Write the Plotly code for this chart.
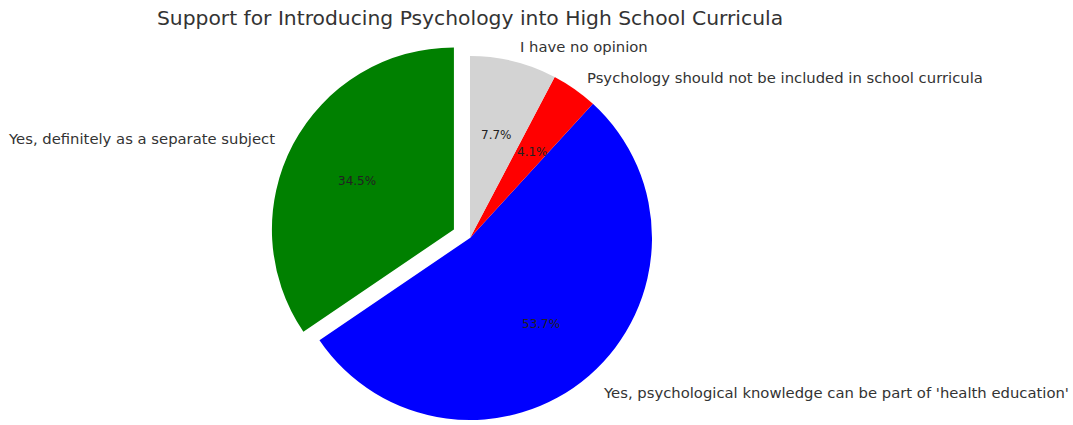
import math
import plotly.graph_objects as go

# ---- data ----
labels = [
    "Yes, definitely as a separate subject",
    "Yes, psychological knowledge can be part of 'health education'",
    "Psychology should not be included in school curricula",
    "I have no opinion",
]
values = [34.5, 53.7, 4.1, 7.7]
colors = ["#008000", "#0000ff", "#ff0000", "#d3d3d3"]
explode = [0.1, 0.0, 0.0, 0.0]
title = "Support for Introducing Psychology into High School Curricula"

# ---- geometry (pixels) ----
W, H = 1073, 425
CX, CY, R = 470, 238, 182
START = 90.0
FONT = "DejaVu Sans"
TXT = "#333333"

total = float(sum(values))
# plotly's counterclockwise pies place the first slice clockwise of the
# rotation angle; rotate so the first slice starts at 12 o'clock going ccw
rotation = -360.0 * values[0] / total

fig = go.Figure()
annotations = []
cum = 0.0
for i, (lab, v, col, ex) in enumerate(zip(labels, values, colors, explode)):
    t1 = START + 360.0 * cum / total
    cum += v
    t2 = START + 360.0 * cum / total
    mid = math.radians((t1 + t2) / 2)
    ux, uy = math.cos(mid), math.sin(mid)
    cx = CX + ex * R * ux
    cy = CY - ex * R * uy
    slice_colors = [c if j == i else "rgba(0,0,0,0)" for j, c in enumerate(colors)]
    fig.add_trace(go.Pie(
        labels=labels, values=values, sort=False,
        direction="counterclockwise", rotation=rotation,
        marker=dict(colors=slice_colors, line=dict(width=0)),
        textinfo="none", hoverinfo="label+percent",
        showlegend=False,
        domain=dict(x=[(cx - R) / W, (cx + R) / W],
                    y=[(H - (cy + R)) / H, (H - (cy - R)) / H]),
    ))
    # outer label
    lx = cx + 1.1 * R * ux
    ly = cy - 1.1 * R * uy
    annotations.append(dict(
        x=lx / W, y=(H - ly) / H, xref="paper", yref="paper",
        text=lab, showarrow=False, yshift=-3,
        xanchor="left" if ux > 0 else "right", yanchor="middle",
        font=dict(family=FONT, size=14.8, color=TXT),
    ))
    # percentage label
    px = cx + 0.6 * R * ux
    py = cy - 0.6 * R * uy
    annotations.append(dict(
        x=px / W, y=(H - py) / H, xref="paper", yref="paper",
        text="%.1f%%" % (100.0 * v / total), showarrow=False, yshift=-3,
        xanchor="center", yanchor="middle",
        font=dict(family=FONT, size=12, color="#222222"),
    ))

fig.update_layout(
    width=W, height=H,
    margin=dict(l=0, r=0, t=0, b=0),
    paper_bgcolor="white", plot_bgcolor="white",
    title=dict(text=title, x=CX / W, y=1 - 18 / H, xanchor="center", yanchor="middle",
               font=dict(family=FONT, size=20.3, color=TXT)),
    annotations=annotations,
)
fig.write_html("out.html",
               config={"displayModeBar": False},
               post_script="document.body.style.margin='0';document.body.style.overflow='hidden';")
